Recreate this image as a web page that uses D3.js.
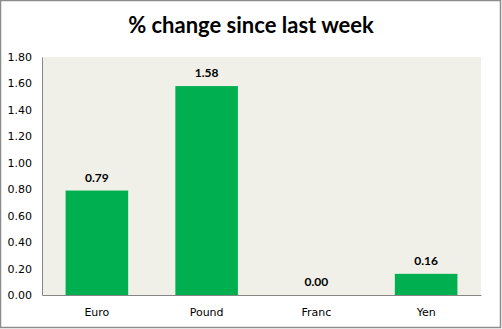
<!DOCTYPE html>
<html>
<head>
<meta charset="utf-8">
<script src="https://cdn.jsdelivr.net/npm/d3@7"></script>
<style>
  html, body { margin: 0; padding: 0; background: #fff; }
  svg { display: block; }
  .axis text { font-family: "DejaVu Sans", Verdana, sans-serif; font-size: 11px; fill: #000; }
</style>
</head>
<body>
<script>
// Weekly currency moves (% change since last week)
const categories = ["Euro", "Pound", "Franc", "Yen"];
const values = [0.79, 1.58, 0.00, 0.16];
const tickValues = [0, 0.2, 0.4, 0.6, 0.8, 1.0, 1.2, 1.4, 1.6, 1.8];
const title = "% change since last week";

const W = 502, H = 329;
const plot = { left: 42, right: 481, top: 57, bottom: 295 };

const svg = d3.select("body").append("svg")
  .attr("width", W).attr("height", H);

// chart frame
svg.append("rect")
  .attr("x", 0.5).attr("y", 0.5)
  .attr("width", W - 2).attr("height", H - 2)
  .attr("fill", "#fff").attr("stroke", "#8c8c8c").attr("stroke-width", 1.5);

svg.append("text")
  .attr("x", 251).attr("y", 33)
  .attr("text-anchor", "middle")
  .style("font-family", "Lato, 'Open Sans', sans-serif")
  .style("font-weight", "bold")
  .style("font-size", "22px")
  .attr("fill", "#000")
  .text(title);

const x = d3.scaleBand()
  .domain(categories)
  .range([plot.left, plot.right])
  .paddingInner(0.43)
  .paddingOuter(0.215);

const y = d3.scaleLinear()
  .domain([0, 1.8])
  .range([plot.bottom, plot.top]);

// plot background
svg.append("rect")
  .attr("x", plot.left).attr("y", plot.top)
  .attr("width", plot.right - plot.left).attr("height", plot.bottom - plot.top)
  .attr("fill", "#f0f0e8");

// bars
svg.append("g").selectAll("rect")
  .data(values)
  .join("rect")
  .attr("x", (d, i) => x(categories[i]))
  .attr("y", d => y(d))
  .attr("width", x.bandwidth())
  .attr("height", d => y(0) - y(d))
  .attr("fill", "#00b050");

// value labels
svg.append("g").selectAll("text")
  .data(values)
  .join("text")
  .attr("x", (d, i) => x(categories[i]) + x.bandwidth() / 2)
  .attr("y", d => y(d) - 9)
  .attr("text-anchor", "middle")
  .style("font-family", "Lato, 'Open Sans', sans-serif")
  .style("font-weight", "bold")
  .style("font-size", "12px")
  .attr("fill", "#000")
  .text(d => d.toFixed(2));

// y axis
const yAxis = svg.append("g")
  .attr("class", "axis")
  .attr("transform", `translate(${plot.left},0)`)
  .call(d3.axisLeft(y).tickValues(tickValues).tickSize(0).tickPadding(10)
    .tickFormat(d3.format(".2f")));
yAxis.select(".domain").attr("stroke", "#868686");

// x axis
const xAxis = svg.append("g")
  .attr("class", "axis")
  .attr("transform", `translate(0,${plot.bottom})`)
  .call(d3.axisBottom(x).tickSize(0).tickPadding(13));
xAxis.select(".domain").attr("stroke", "#868686");
</script>
</body>
</html>
